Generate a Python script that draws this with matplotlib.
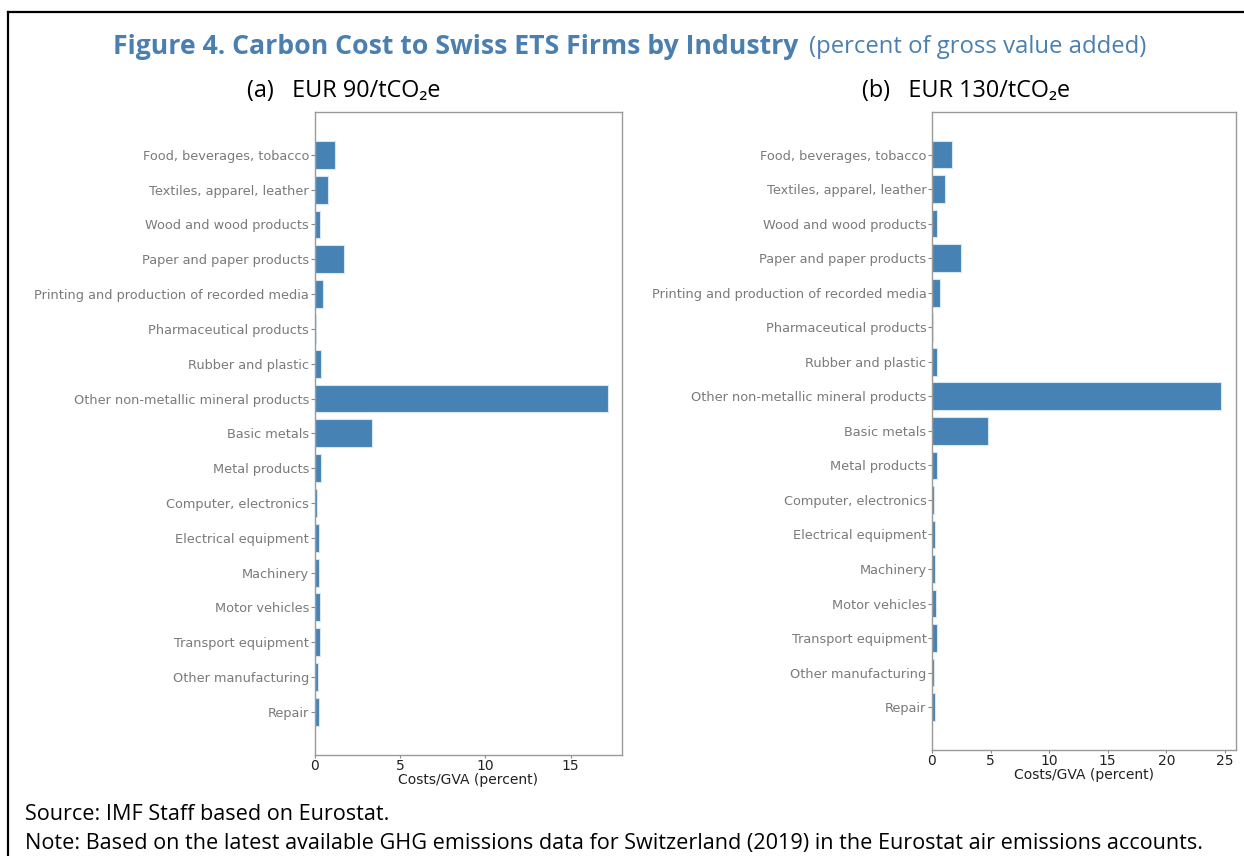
import matplotlib
matplotlib.use("Agg")
import matplotlib.pyplot as plt
from matplotlib.lines import Line2D

# -------------------- Data --------------------

industries = [
    "Food, beverages, tobacco",
    "Textiles, apparel, leather",
    "Wood and wood products",
    "Paper and paper products",
    "Printing and production of recorded media",
    "Pharmaceutical products",
    "Rubber and plastic",
    "Other non-metallic mineral products",
    "Basic metals",
    "Metal products",
    "Computer, electronics",
    "Electrical equipment",
    "Machinery",
    "Motor vehicles",
    "Transport equipment",
    "Other manufacturing",
    "Repair",
]

# costs as percent of GVA at EUR 90/tCO2e
cost_90 = [1.23, 0.82, 0.35, 1.73, 0.50, 0.06, 0.37, 17.17, 3.39,
           0.37, 0.13, 0.27, 0.27, 0.30, 0.33, 0.20, 0.27]

# costs as percent of GVA at EUR 130/tCO2e
cost_130 = [1.67, 1.10, 0.40, 2.44, 0.68, 0.05, 0.45, 24.69, 4.79,
            0.45, 0.13, 0.26, 0.26, 0.31, 0.40, 0.20, 0.26]

panel_titles = ["(a)   EUR 90/tCO\u2082e", "(b)   EUR 130/tCO\u2082e"]

TITLE_BLUE = "#4a7fb0"
BAR_BLUE = "#4682b4"

# -------------------- Figure --------------------

W, H = 1244, 856
fig = plt.figure(figsize=(W / 100, H / 100), dpi=100)


def px_box(x0, y0, x1, y1):
    """Axes rectangle from pixel corners (top-left origin)."""
    return [x0 / W, 1 - y1 / H, (x1 - x0) / W, (y1 - y0) / H]


ax_left = fig.add_axes(px_box(314.5, 111.7, 622.3, 755))
ax_right = fig.add_axes(px_box(932, 111.7, 1235.7, 750))

for ax, values in [(ax_left, cost_90), (ax_right, cost_130)]:
    ax.barh(industries, values, height=0.8, color=BAR_BLUE,
            edgecolor="#d6e6f4", linewidth=0.8)
    ax.invert_yaxis()
    ax.tick_params(axis="y", labelsize=9.3, labelcolor="#7a7a7a",
                   color="#888888", length=3, pad=1)
    ax.tick_params(axis="x", labelsize=10, labelcolor="#222222",
                   color="#888888", length=2.5, pad=0.5)
    ax.set_xlabel("Costs/GVA (percent)", fontsize=10, color="#222222",
                  labelpad=0)
    for sp in ax.spines.values():
        sp.set_color("#9a9a9a")
        sp.set_linewidth(1.0)

ax_left.set_xticks([0, 5, 10, 15])
ax_right.set_xticks([0, 5, 10, 15, 20, 25])

# -------------------- Titles & notes --------------------

title_font = ["Open Sans", "DejaVu Sans"]

fig.text(113 / W, 1 - 47 / H,
         "Figure 4. Carbon Cost to Swiss ETS Firms by Industry",
         fontsize=19.2, fontweight="bold", color=TITLE_BLUE,
         family=title_font, va="center", ha="left")
fig.text(809 / W, 1 - 47 / H, "(percent of gross value added)",
         fontsize=17.2, color=TITLE_BLUE, family=title_font,
         va="center", ha="left")

fig.text(247 / W, 1 - 91 / H, panel_titles[0], fontsize=16.8,
         family=title_font, va="center", ha="left", color="black")
fig.text(862 / W, 1 - 91 / H, panel_titles[1], fontsize=16.8,
         family=title_font, va="center", ha="left", color="black")

fig.text(25 / W, 1 - 815 / H, "Source: IMF Staff based on Eurostat.",
         fontsize=15.6, family=title_font, va="center", ha="left")
fig.text(25 / W, 1 - 843 / H,
         "Note: Based on the latest available GHG emissions data for "
         "Switzerland (2019) in the Eurostat air emissions accounts.",
         fontsize=15.6, family=title_font, va="center", ha="left")

# frame around the exhibit (top and left edges)
fig.add_artist(Line2D([8 / W, 1.0], [1 - 12 / H, 1 - 12 / H],
                      color="black", linewidth=1.6, transform=fig.transFigure))
fig.add_artist(Line2D([8 / W, 8 / W], [1 - 12 / H, 0.0],
                      color="black", linewidth=1.6, transform=fig.transFigure))

fig.savefig("out.png", dpi=100)
